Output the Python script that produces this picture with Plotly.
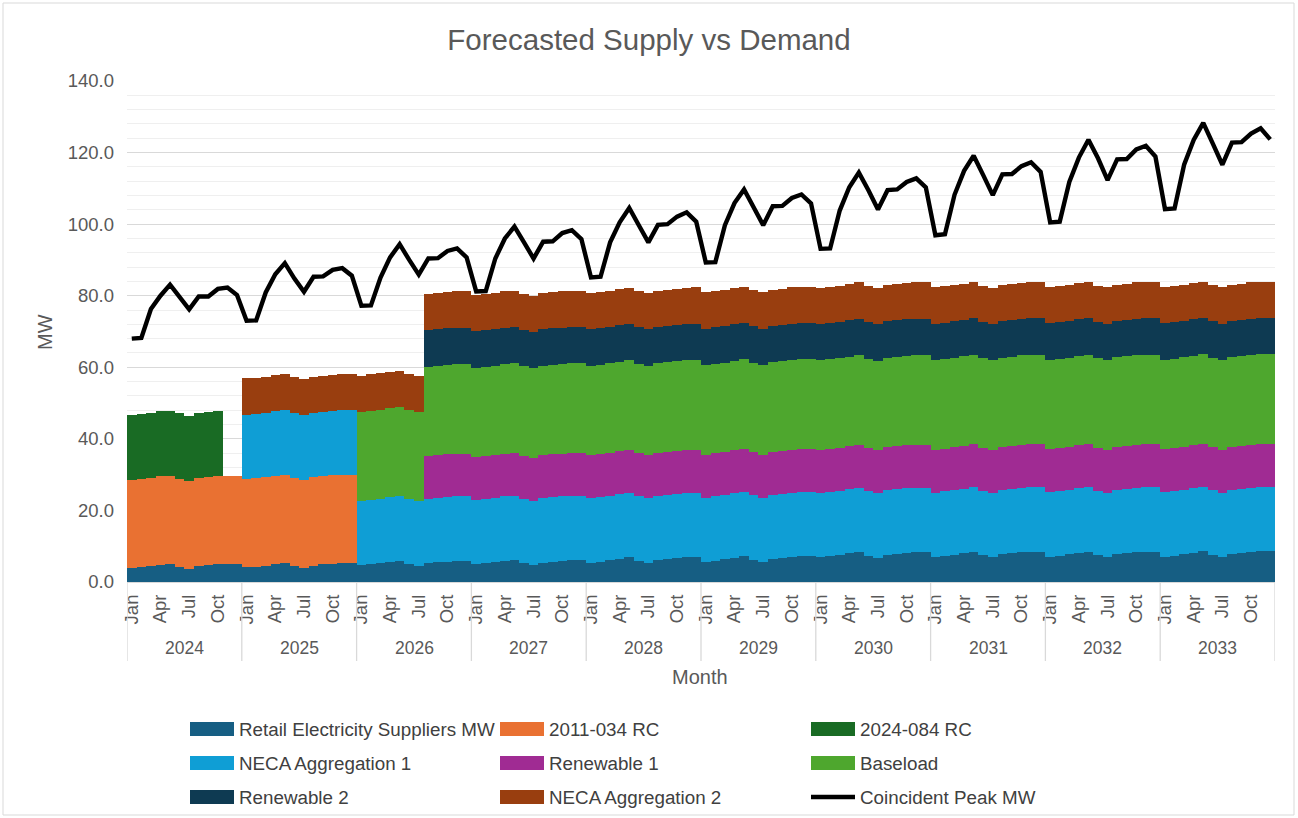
import plotly.graph_objects as go

# ---------------- data ----------------
years = [2024, 2025, 2026, 2027, 2028, 2029, 2030, 2031, 2032, 2033]
month_names = ["Jan", "Feb", "Mar", "Apr", "May", "Jun", "Jul", "Aug", "Sep", "Oct", "Nov", "Dec"]
quarter_labels = ["Jan", "Apr", "Jul", "Oct"]

retail = [
    3.8, 4.1, 4.4, 4.8, 5.0, 4.2, 3.5, 4.4, 4.7, 4.9, 5.0, 5.0,
    4.1, 4.3, 4.6, 5.0, 5.3, 4.5, 3.9, 4.6, 4.9, 5.1, 5.3, 5.3,
    4.7, 5.0, 5.3, 5.7, 5.9, 5.1, 4.5, 5.2, 5.5, 5.7, 5.9, 5.9,
    4.9, 5.2, 5.5, 5.9, 6.1, 5.3, 4.7, 5.4, 5.7, 5.9, 6.1, 6.1,
    5.4, 5.7, 6.1, 6.5, 6.9, 6.0, 5.4, 6.1, 6.4, 6.7, 6.9, 7.0,
    5.6, 6.0, 6.3, 6.8, 7.2, 6.2, 5.6, 6.4, 6.7, 7.0, 7.2, 7.2,
    6.9, 7.2, 7.5, 8.0, 8.4, 7.4, 6.8, 7.6, 7.9, 8.2, 8.4, 8.4,
    7.0, 7.3, 7.6, 8.1, 8.5, 7.5, 6.9, 7.7, 8.0, 8.3, 8.5, 8.5,
    7.1, 7.4, 7.7, 8.2, 8.5, 7.5, 7.0, 7.8, 8.1, 8.4, 8.5, 8.5,
    7.1, 7.4, 7.8, 8.2, 8.6, 7.6, 7.0, 7.8, 8.1, 8.4, 8.6, 8.6,
]

rc_2011_034 = [
    24.7, 24.7, 24.7, 24.7, 24.7, 24.7, 24.7, 24.7, 24.7, 24.7, 24.7, 24.7,
    24.7, 24.7, 24.7, 24.7, 24.7, 24.7, 24.7, 24.7, 24.7, 24.7, 24.7, 24.7,
    None, None, None, None, None, None, None, None, None, None, None, None,
    None, None, None, None, None, None, None, None, None, None, None, None,
    None, None, None, None, None, None, None, None, None, None, None, None,
    None, None, None, None, None, None, None, None, None, None, None, None,
    None, None, None, None, None, None, None, None, None, None, None, None,
    None, None, None, None, None, None, None, None, None, None, None, None,
    None, None, None, None, None, None, None, None, None, None, None, None,
    None, None, None, None, None, None, None, None, None, None, None, None,
]

rc_2024_084 = [
    18.2, 18.2, 18.2, 18.2, 18.2, 18.2, 18.2, 18.2, 18.2, 18.2, None, None,
    None, None, None, None, None, None, None, None, None, None, None, None,
    None, None, None, None, None, None, None, None, None, None, None, None,
    None, None, None, None, None, None, None, None, None, None, None, None,
    None, None, None, None, None, None, None, None, None, None, None, None,
    None, None, None, None, None, None, None, None, None, None, None, None,
    None, None, None, None, None, None, None, None, None, None, None, None,
    None, None, None, None, None, None, None, None, None, None, None, None,
    None, None, None, None, None, None, None, None, None, None, None, None,
    None, None, None, None, None, None, None, None, None, None, None, None,
]

neca_agg_1 = [
    None, None, None, None, None, None, None, None, None, None, None, None,
    18.0, 18.0, 18.0, 18.0, 18.0, 18.0, 18.0, 18.0, 18.0, 18.0, 18.0, 18.0,
    18.0, 18.0, 18.0, 18.0, 18.0, 18.0, 18.0, 18.0, 18.0, 18.0, 18.0, 18.0,
    18.0, 18.0, 18.0, 18.0, 18.0, 18.0, 18.0, 18.0, 18.0, 18.0, 18.0, 18.0,
    18.0, 18.0, 18.0, 18.0, 18.0, 18.0, 18.0, 18.0, 18.0, 18.0, 18.0, 18.0,
    18.0, 18.0, 18.0, 18.0, 18.0, 18.0, 18.0, 18.0, 18.0, 18.0, 18.0, 18.0,
    18.0, 18.0, 18.0, 18.0, 18.0, 18.0, 18.0, 18.0, 18.0, 18.0, 18.0, 18.0,
    18.0, 18.0, 18.0, 18.0, 18.0, 18.0, 18.0, 18.0, 18.0, 18.0, 18.0, 18.0,
    18.0, 18.0, 18.0, 18.0, 18.0, 18.0, 18.0, 18.0, 18.0, 18.0, 18.0, 18.0,
    18.0, 18.0, 18.0, 18.0, 18.0, 18.0, 18.0, 18.0, 18.0, 18.0, 18.0, 18.0,
]

renewable_1 = [
    None, None, None, None, None, None, None, None, None, None, None, None,
    None, None, None, None, None, None, None, None, None, None, None, None,
    None, None, None, None, None, None, None, 12.0, 12.0, 12.0, 12.0, 12.0,
    12.0, 12.0, 12.0, 12.0, 12.0, 12.0, 12.0, 12.0, 12.0, 12.0, 12.0, 12.0,
    12.0, 12.0, 12.0, 12.0, 12.0, 12.0, 12.0, 12.0, 12.0, 12.0, 12.0, 12.0,
    12.0, 12.0, 12.0, 12.0, 12.0, 12.0, 12.0, 12.0, 12.0, 12.0, 12.0, 12.0,
    12.0, 12.0, 12.0, 12.0, 12.0, 12.0, 12.0, 12.0, 12.0, 12.0, 12.0, 12.0,
    12.0, 12.0, 12.0, 12.0, 12.0, 12.0, 12.0, 12.0, 12.0, 12.0, 12.0, 12.0,
    12.0, 12.0, 12.0, 12.0, 12.0, 12.0, 12.0, 12.0, 12.0, 12.0, 12.0, 12.0,
    12.0, 12.0, 12.0, 12.0, 12.0, 12.0, 12.0, 12.0, 12.0, 12.0, 12.0, 12.0,
]

baseload = [
    None, None, None, None, None, None, None, None, None, None, None, None,
    None, None, None, None, None, None, None, None, None, None, None, None,
    24.9, 24.9, 24.9, 24.9, 24.9, 24.9, 24.9, 25.0, 25.0, 25.0, 25.0, 25.0,
    25.0, 25.0, 25.0, 25.0, 25.0, 25.0, 25.0, 25.0, 25.0, 25.0, 25.0, 25.0,
    25.0, 25.0, 25.0, 25.0, 25.0, 25.0, 25.0, 25.0, 25.0, 25.0, 25.0, 25.0,
    25.0, 25.0, 25.0, 25.0, 25.0, 25.0, 25.0, 25.0, 25.0, 25.0, 25.0, 25.0,
    25.0, 25.0, 25.0, 25.0, 25.0, 25.0, 25.0, 25.0, 25.0, 25.0, 25.0, 25.0,
    25.0, 25.0, 25.0, 25.0, 25.0, 25.0, 25.0, 25.0, 25.0, 25.0, 25.0, 25.0,
    25.0, 25.0, 25.0, 25.0, 25.0, 25.0, 25.0, 25.0, 25.0, 25.0, 25.0, 25.0,
    25.0, 25.0, 25.0, 25.0, 25.0, 25.0, 25.0, 25.0, 25.0, 25.0, 25.0, 25.0,
]

renewable_2 = [
    None, None, None, None, None, None, None, None, None, None, None, None,
    None, None, None, None, None, None, None, None, None, None, None, None,
    None, None, None, None, None, None, None, 10.2, 10.2, 10.2, 10.2, 10.2,
    10.2, 10.2, 10.2, 10.2, 10.2, 10.2, 10.2, 10.2, 10.2, 10.2, 10.2, 10.2,
    10.2, 10.2, 10.2, 10.2, 10.2, 10.2, 10.2, 10.2, 10.2, 10.2, 10.2, 10.2,
    10.2, 10.2, 10.2, 10.2, 10.2, 10.2, 10.2, 10.2, 10.2, 10.2, 10.2, 10.2,
    10.2, 10.2, 10.2, 10.2, 10.2, 10.2, 10.2, 10.2, 10.2, 10.2, 10.2, 10.2,
    10.2, 10.2, 10.2, 10.2, 10.2, 10.2, 10.2, 10.2, 10.2, 10.2, 10.2, 10.2,
    10.2, 10.2, 10.2, 10.2, 10.2, 10.2, 10.2, 10.2, 10.2, 10.2, 10.2, 10.2,
    10.2, 10.2, 10.2, 10.2, 10.2, 10.2, 10.2, 10.2, 10.2, 10.2, 10.2, 10.2,
]

neca_agg_2 = [
    None, None, None, None, None, None, None, None, None, None, None, None,
    10.1, 10.1, 10.1, 10.1, 10.1, 10.1, 10.1, 10.1, 10.1, 10.1, 10.1, 10.1,
    10.1, 10.1, 10.1, 10.1, 10.1, 10.1, 10.1, 10.1, 10.1, 10.1, 10.1, 10.1,
    10.1, 10.1, 10.1, 10.1, 10.1, 10.1, 10.1, 10.1, 10.1, 10.1, 10.1, 10.1,
    10.1, 10.1, 10.1, 10.1, 10.1, 10.1, 10.1, 10.1, 10.1, 10.1, 10.1, 10.1,
    10.1, 10.1, 10.1, 10.1, 10.1, 10.1, 10.1, 10.1, 10.1, 10.1, 10.1, 10.1,
    10.1, 10.1, 10.1, 10.1, 10.1, 10.1, 10.1, 10.1, 10.1, 10.1, 10.1, 10.1,
    10.1, 10.1, 10.1, 10.1, 10.1, 10.1, 10.1, 10.1, 10.1, 10.1, 10.1, 10.1,
    10.1, 10.1, 10.1, 10.1, 10.1, 10.1, 10.1, 10.1, 10.1, 10.1, 10.1, 10.1,
    10.1, 10.1, 10.1, 10.1, 10.1, 10.1, 10.1, 10.1, 10.1, 10.1, 10.1, 10.1,
]

coincident_peak = [
    68.0, 68.2, 76.3, 80.0, 83.1, 79.6, 76.2, 79.8, 79.8, 81.9, 82.3, 80.2,
    73.0, 73.1, 80.9, 86.0, 89.1, 84.8, 81.1, 85.3, 85.4, 87.2, 87.7, 85.6,
    77.2, 77.3, 85.1, 90.7, 94.4, 90.0, 85.9, 90.4, 90.5, 92.5, 93.2, 90.7,
    81.2, 81.3, 90.4, 96.0, 99.3, 94.9, 90.4, 95.1, 95.2, 97.5, 98.3, 95.8,
    85.1, 85.3, 94.9, 100.5, 104.5, 99.7, 94.9, 99.8, 100.0, 102.1, 103.3, 100.7,
    89.3, 89.4, 99.7, 105.9, 109.7, 104.7, 99.7, 105.0, 105.1, 107.3, 108.3, 105.8,
    93.1, 93.2, 103.8, 110.3, 114.4, 109.5, 104.1, 109.5, 109.7, 111.8, 112.8, 110.3,
    96.9, 97.2, 108.2, 114.9, 119.1, 113.7, 108.1, 113.9, 114.0, 116.2, 117.3, 114.6,
    100.5, 100.7, 111.8, 118.6, 123.6, 118.4, 112.3, 118.1, 118.2, 120.9, 121.9, 118.9,
    104.2, 104.4, 116.6, 123.5, 128.3, 122.5, 116.6, 122.8, 122.9, 125.3, 126.8, 123.7,
]

series = [
    ("Retail Electricity Suppliers MW", retail, "#165E83"),
    ("2011-034 RC", rc_2011_034, "#E97132"),
    ("2024-084 RC", rc_2024_084, "#196B24"),
    ("NECA Aggregation 1", neca_agg_1, "#0F9ED5"),
    ("Renewable 1", renewable_1, "#A02B93"),
    ("Baseload", baseload, "#4EA72E"),
    ("Renewable 2", renewable_2, "#0E3A52"),
    ("NECA Aggregation 2", neca_agg_2, "#993E0F"),
]
peak_name = "Coincident Peak MW"

# ---------------- layout geometry ----------------
W, H = 1298, 818
PL, PR, PT, PB = 127, 1275, 81, 582   # plot area in pixels
FONT = "Liberation Sans, Arial, sans-serif"
GREY = "#595959"


def px2x(px):
    return (px - PL) / (PR - PL)


def py2y(py):
    return (PB - py) / (PB - PT)


n = len(years) * len(month_names)
xidx = list(range(n))

fig = go.Figure()
for name, vals, color in series:
    fig.add_trace(go.Bar(
        x=xidx, y=vals, name=name, marker=dict(color=color, line=dict(width=0)),
        width=1.0, showlegend=False,
    ))
fig.add_trace(go.Scatter(
    x=xidx, y=coincident_peak, name=peak_name, mode="lines",
    line=dict(color="black", width=4.4), showlegend=False,
))

tickvals = [i for i in xidx if month_names[i % 12] in quarter_labels]
ticktext = [month_names[i % 12] for i in tickvals]

shapes = []
annotations = []

# year group dividers and labels
for k in range(len(years) + 1):
    shapes.append(dict(type="line", xref="x", yref="paper",
                       x0=k * 12 - 0.5, x1=k * 12 - 0.5, y0=0, y1=py2y(661),
                       line=dict(color="#d9d9d9", width=1.3)))
for k, yr in enumerate(years):
    annotations.append(dict(x=k * 12 + 5.5, y=py2y(648), xref="x", yref="paper",
                            text=str(yr), showarrow=False,
                            font=dict(size=17.5, color=GREY, family=FONT),
                            xanchor="center", yanchor="middle"))

# axis titles
annotations.append(dict(x=px2x(700), y=py2y(677), xref="paper", yref="paper",
                        text="Month", showarrow=False, xanchor="center", yanchor="middle",
                        font=dict(size=20, color=GREY, family=FONT)))
annotations.append(dict(x=px2x(45), y=py2y(332), xref="paper", yref="paper",
                        text="MW", showarrow=False, textangle=-90,
                        xanchor="center", yanchor="middle",
                        font=dict(size=20, color=GREY, family=FONT)))

# manual legend (row-major, three columns)
legend_items = [(s[0], s[2], "bar") for s in series] + [(peak_name, "black", "line")]
col_x = [190, 500, 811]
row_y = [729, 763, 797]
for i, (name, color, kind) in enumerate(legend_items):
    cx = col_x[i % 3]
    cy = row_y[i // 3]
    if kind == "bar":
        shapes.append(dict(type="rect", xref="paper", yref="paper",
                           x0=px2x(cx), x1=px2x(cx + 44),
                           y0=py2y(cy + 7), y1=py2y(cy - 7),
                           fillcolor=color, line=dict(width=0)))
    else:
        shapes.append(dict(type="line", xref="paper", yref="paper",
                           x0=px2x(cx), x1=px2x(cx + 44),
                           y0=py2y(cy), y1=py2y(cy),
                           line=dict(color=color, width=4.4)))
    annotations.append(dict(x=px2x(cx + 47), y=py2y(cy), xref="paper", yref="paper",
                            text=name, showarrow=False, xanchor="left", yanchor="middle",
                            font=dict(size=18.8, color="#404040", family=FONT)))

# chart area border
shapes.append(dict(type="rect", xref="paper", yref="paper",
                   x0=px2x(3), x1=px2x(1294), y0=py2y(815), y1=py2y(3),
                   line=dict(color="#d9d9d9", width=1), fillcolor="rgba(0,0,0,0)"))

fig.update_layout(
    width=W, height=H,
    margin=dict(l=PL, r=W - PR, t=PT, b=H - PB, pad=0),
    barmode="stack", bargap=0, bargroupgap=0,
    plot_bgcolor="white", paper_bgcolor="white",
    font=dict(family=FONT, color=GREY),
    title=dict(text="Forecasted Supply vs Demand", x=0.5, xanchor="center",
               y=1 - 40 / H, yanchor="middle",
               font=dict(size=29.5, color=GREY, family=FONT)),
    showlegend=False,
    shapes=shapes,
    annotations=annotations,
)
fig.update_xaxes(
    range=[-0.5, n - 0.5], tickmode="array", tickvals=tickvals, ticktext=ticktext,
    tickangle=-90, tickfont=dict(size=18.5, color=GREY, family=FONT),
    showgrid=False, zeroline=False, showline=True, linecolor="#d9d9d9", linewidth=1.3,
    ticks="", fixedrange=True, ticklabelstandoff=4,
)
fig.update_yaxes(
    range=[0, 140], dtick=20, tickformat=".1f",
    tickfont=dict(size=18.5, color=GREY, family=FONT),
    showgrid=True, gridcolor="#d9d9d9", gridwidth=1.3,
    minor=dict(dtick=4, showgrid=True, gridcolor="#efefef", gridwidth=1.3),
    zeroline=False, showline=False, ticks="", ticklabelstandoff=12,
)

fig.write_html("out.html", config={"displayModeBar": False},
               post_script="document.body.style.margin='0';")
